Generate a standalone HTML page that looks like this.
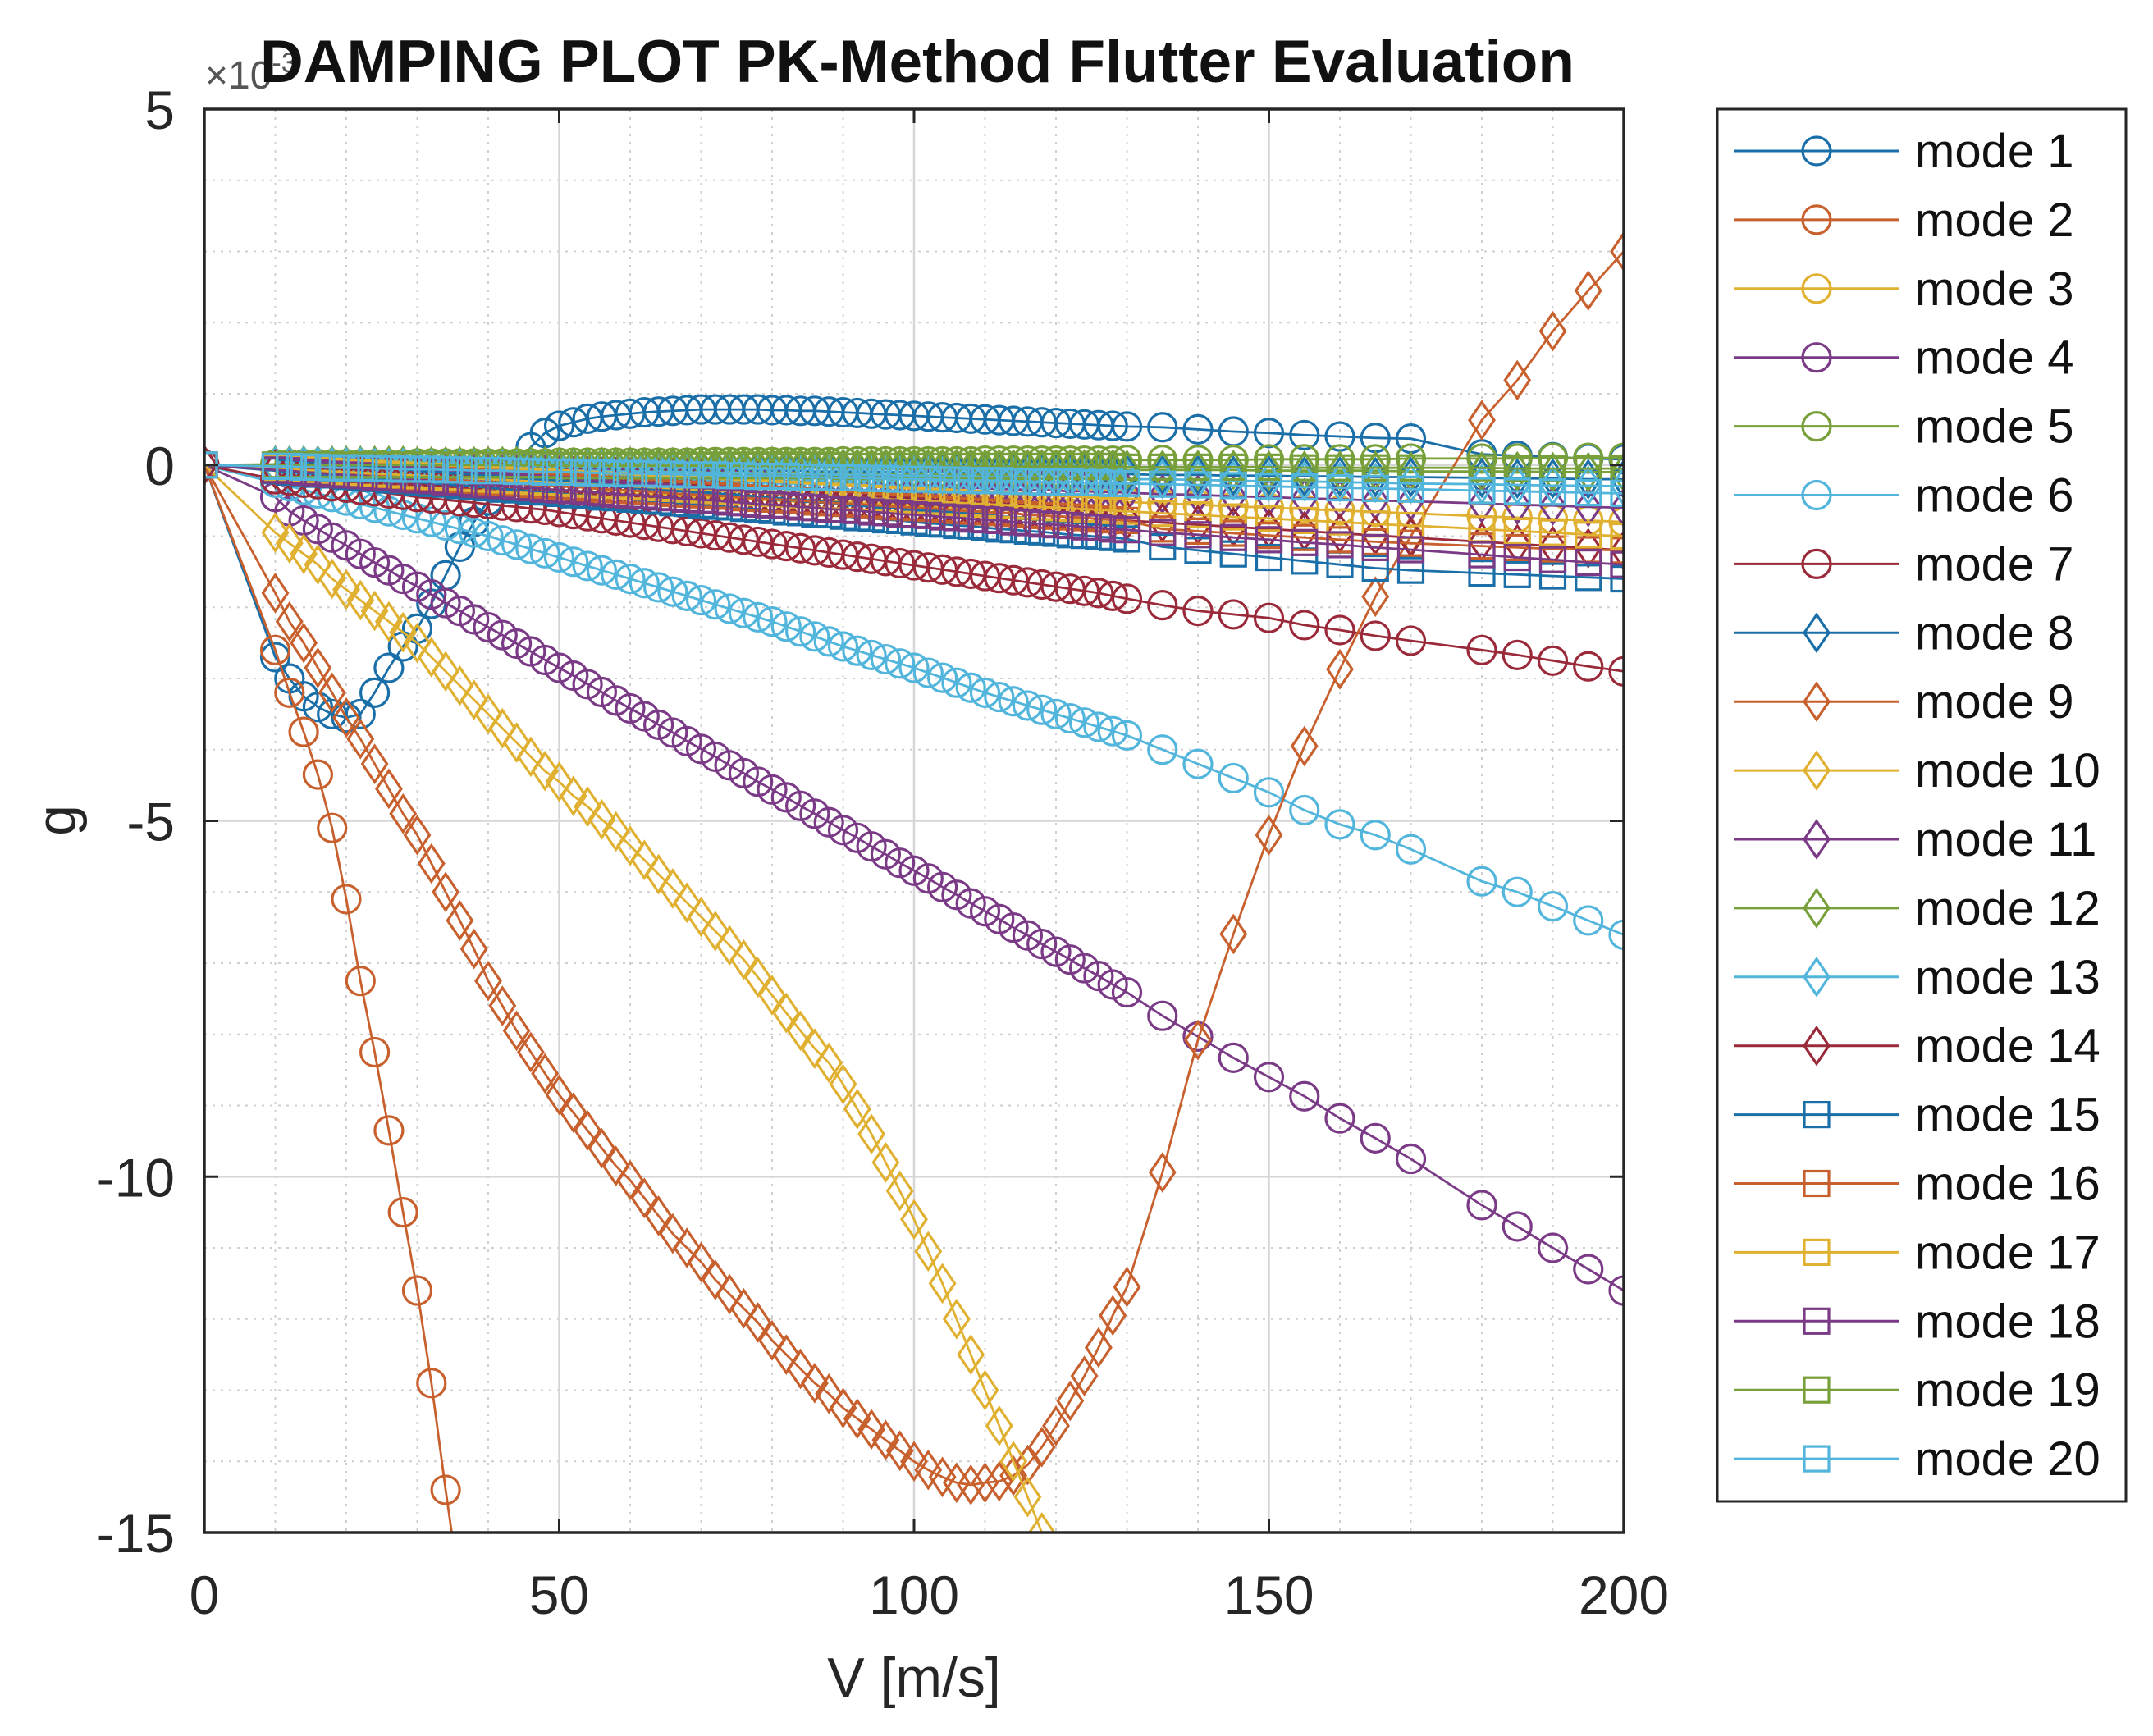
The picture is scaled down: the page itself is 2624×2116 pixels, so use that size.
<!DOCTYPE html>
<html><head><meta charset="utf-8"><style>
html,body{margin:0;padding:0;background:#fff;}
svg{display:block;font-family:"Liberation Sans",Arial,sans-serif;}
</style></head><body>
<svg id="chart" xmlns="http://www.w3.org/2000/svg" width="2624" height="2116" viewBox="0 0 2624 2116">
<rect x="0" y="0" width="2624" height="2116" fill="#fff"/>
<defs><clipPath id="plotclip"><rect x="249" y="133" width="1730" height="1735"/></clipPath></defs>
<g id="grid"></g>
<g id="series" clip-path="url(#plotclip)"></g>
<rect x="249" y="133" width="1730" height="1735" fill="none" stroke="#262626" stroke-width="3.5"/>
<g id="ticks"></g>
<text x="250" y="108" font-size="48" fill="#555">×10<tspan font-size="34" dy="-20">-3</tspan></text>
<text x="1118" y="100" font-size="73" font-weight="bold" text-anchor="middle" fill="#111">DAMPING PLOT PK-Method Flutter Evaluation</text>
<text x="1114" y="2068" font-size="68" text-anchor="middle" fill="#262626">V [m/s]</text>
<text x="0" y="0" font-size="68" text-anchor="middle" fill="#262626" transform="translate(92,1000) rotate(-90)">g</text>
<g id="legend"></g>
</svg>
<script>
const V = [0,
10,12,14,16,18,20,22,24,26,28,
30,32,34,36,38,40,42,44,46,48,
50,52,54,56,58,60,62,64,66,68,
70,72,74,76,78,80,82,84,86,88,
90,92,94,96,98,100,102,104,106,108,
110,112,114,116,118,120,122,124,126,128,
130,135,140,145,150,155,160,165,170,180,185,190,195,200];
const xTicks = [0,50,100,150,200];
const yTicks = [5,0,-5,-10,-15];
const xTickLabels = ["0","50","100","150","200"];
const yTickLabels = ["5","0","-5","-10","-15"];
const modeNames = ["mode 1","mode 2","mode 3","mode 4","mode 5","mode 6","mode 7","mode 8","mode 9","mode 10","mode 11","mode 12","mode 13","mode 14","mode 15","mode 16","mode 17","mode 18","mode 19","mode 20"];

const mode1 = [0,
-2.7,-3.0,-3.25,-3.4,-3.5,-3.55,-3.5,-3.2,-2.85,-2.55,
-2.3,-1.95,-1.55,-1.15,-0.8,-0.5,-0.25,0.0,0.25,0.45,
0.55,0.6,0.65,0.68,0.7,0.72,0.74,0.75,0.76,0.77,
0.78,0.78,0.78,0.78,0.78,0.77,0.77,0.76,0.76,0.75,
0.74,0.73,0.72,0.71,0.7,0.69,0.68,0.67,0.66,0.65,
0.64,0.63,0.62,0.61,0.6,0.59,0.58,0.57,0.56,0.55,
0.54,0.53,0.5,0.47,0.45,0.42,0.4,0.38,0.37,0.15,0.13,0.11,0.09,0.08];
const mode2 = [0,
-2.6,-3.2,-3.75,-4.35,-5.1,-6.1,-7.25,-8.25,-9.35,-10.5,
-11.6,-12.9,-14.4,-15.8];
const mode3 = [0,
-.04,-.05,-.06,-.06,-.07,-.08,-.09,-.10,-.10,-.11,
-.12,-.13,-.14,-.14,-.15,-.16,-.17,-.18,-.18,-.19,
-.20,-.21,-.22,-.22,-.23,-.24,-.25,-.26,-.26,-.27,
-.28,-.29,-.30,-.30,-.31,-.32,-.33,-.34,-.34,-.35,
-.36,-.37,-.38,-.38,-.39,-.40,-.41,-.42,-.42,-.43,
-.44,-.45,-.46,-.46,-.47,-.48,-.49,-.50,-.50,-.51,
-.52,-.54,-.56,-.58,-.60,-.62,-.64,-.66,-.68,-.72,-.74,-.76,-.78,-.80];
const mode4 = [0,
-.45,-.65,-.78,-.9,-1.02,-1.13,-1.25,-1.37,-1.48,-1.6,
-1.71,-1.82,-1.94,-2.05,-2.17,-2.28,-2.39,-2.51,-2.62,-2.74,
-2.85,-2.96,-3.08,-3.19,-3.31,-3.42,-3.53,-3.65,-3.76,-3.88,
-3.99,-4.1,-4.22,-4.33,-4.45,-4.56,-4.67,-4.79,-4.9,-5.02,
-5.13,-5.24,-5.36,-5.47,-5.59,-5.7,-5.81,-5.93,-6.04,-6.16,
-6.27,-6.38,-6.5,-6.61,-6.73,-6.84,-6.95,-7.07,-7.18,-7.3,
-7.41,-7.74,-8.03,-8.33,-8.6,-8.87,-9.18,-9.46,-9.75,-10.4,-10.7,-11.0,-11.3,-11.6];
const mode5 = [0,
.01,.01,.01,.01,.01,.01,.01,.01,.01,.01,
.02,.02,.02,.02,.02,.02,.02,.02,.02,.02,
.03,.03,.03,.03,.03,.03,.03,.03,.03,.03,
.04,.04,.04,.04,.04,.04,.04,.04,.04,.04,
.05,.05,.05,.05,.05,.05,.05,.05,.05,.05,
.06,.06,.06,.06,.06,.06,.06,.06,.06,.06,
.07,.07,.07,.07,.08,.08,.08,.08,.09,.09,.09,.10,.10,.10];
const mode6 = [0,
-.25,-.3,-.35,-.4,-.45,-.5,-.55,-.6,-.65,-.7,
-.75,-.8,-.85,-.9,-.95,-1.0,-1.06,-1.12,-1.18,-1.24,
-1.3,-1.36,-1.42,-1.48,-1.54,-1.6,-1.66,-1.72,-1.78,-1.84,
-1.9,-1.96,-2.02,-2.08,-2.14,-2.2,-2.27,-2.34,-2.41,-2.48,
-2.55,-2.61,-2.67,-2.73,-2.79,-2.85,-2.92,-2.99,-3.06,-3.13,
-3.2,-3.26,-3.32,-3.38,-3.44,-3.5,-3.56,-3.62,-3.68,-3.74,
-3.8,-4.0,-4.2,-4.4,-4.6,-4.85,-5.05,-5.2,-5.4,-5.85,-6.0,-6.2,-6.4,-6.6];
const mode7 = [0,
-.2,-.22,-.25,-.27,-.3,-.32,-.35,-.37,-.4,-.42,
-.45,-.47,-.49,-.51,-.53,-.55,-.57,-.59,-.61,-.63,
-.66,-.69,-.72,-.75,-.78,-.81,-.84,-.87,-.9,-.93,
-.96,-.99,-1.02,-1.05,-1.08,-1.11,-1.14,-1.17,-1.2,-1.23,
-1.26,-1.29,-1.32,-1.35,-1.38,-1.41,-1.44,-1.47,-1.5,-1.53,
-1.56,-1.59,-1.62,-1.65,-1.68,-1.71,-1.74,-1.77,-1.8,-1.84,
-1.88,-1.97,-2.05,-2.1,-2.15,-2.25,-2.32,-2.4,-2.47,-2.6,-2.67,-2.75,-2.83,-2.9];
const mode8 = [0,
-.01,-.01,-.01,-.02,-.02,-.02,-.02,-.02,-.03,-.03,
-.03,-.03,-.03,-.04,-.04,-.04,-.04,-.04,-.05,-.05,
-.05,-.05,-.05,-.06,-.06,-.06,-.06,-.06,-.07,-.07,
-.07,-.07,-.07,-.08,-.08,-.08,-.08,-.08,-.09,-.09,
-.09,-.09,-.09,-.10,-.10,-.10,-.10,-.10,-.11,-.11,
-.11,-.11,-.11,-.12,-.12,-.12,-.12,-.12,-.13,-.13,
-.13,-.14,-.14,-.15,-.15,-.16,-.16,-.17,-.17,-.18,-.19,-.19,-.20,-.20];
const mode9 = [0,
-1.8,-2.2,-2.5,-2.85,-3.2,-3.55,-3.85,-4.2,-4.55,-4.9,
-5.2,-5.6,-6.0,-6.4,-6.8,-7.25,-7.6,-7.95,-8.25,-8.55,
-8.85,-9.1,-9.35,-9.6,-9.85,-10.05,-10.3,-10.55,-10.8,-11.0,
-11.2,-11.45,-11.65,-11.85,-12.05,-12.3,-12.5,-12.7,-12.9,-13.05,
-13.25,-13.4,-13.55,-13.7,-13.85,-14.0,-14.12,-14.22,-14.3,-14.33,
-14.3,-14.28,-14.2,-14.05,-13.8,-13.5,-13.15,-12.8,-12.4,-11.95,
-11.55,-9.94,-8.08,-6.59,-5.2,-3.95,-2.87,-1.85,-1.0,0.63,1.19,1.88,2.45,3.0];
const mode10 = [0,
-.95,-1.1,-1.25,-1.4,-1.6,-1.75,-1.9,-2.05,-2.2,-2.35,
-2.5,-2.7,-2.9,-3.1,-3.3,-3.5,-3.7,-3.9,-4.1,-4.3,
-4.45,-4.65,-4.8,-4.98,-5.15,-5.35,-5.55,-5.75,-5.95,-6.15,
-6.35,-6.55,-6.75,-6.95,-7.2,-7.45,-7.7,-7.95,-8.2,-8.4,
-8.7,-9.05,-9.4,-9.8,-10.2,-10.6,-11.05,-11.5,-12.0,-12.5,
-13.0,-13.5,-14.0,-14.5,-15.0,-15.5];
const mode11 = [0,
-.03,-.04,-.04,-.05,-.05,-.06,-.07,-.07,-.08,-.08,
-.09,-.10,-.10,-.11,-.11,-.12,-.13,-.13,-.14,-.14,
-.15,-.16,-.16,-.17,-.17,-.18,-.19,-.19,-.20,-.20,
-.21,-.22,-.22,-.23,-.23,-.24,-.25,-.25,-.26,-.26,
-.27,-.28,-.28,-.29,-.29,-.30,-.31,-.31,-.32,-.32,
-.33,-.34,-.34,-.35,-.35,-.36,-.37,-.37,-.38,-.38,
-.39,-.41,-.42,-.44,-.45,-.47,-.48,-.50,-.51,-.54,-.56,-.57,-.59,-.60];
const mode12 = [0,
-.01,-.01,-.01,-.01,-.01,-.01,-.01,-.01,-.01,-.01,
-.02,-.02,-.02,-.02,-.02,-.02,-.02,-.02,-.02,-.02,
-.03,-.03,-.03,-.03,-.03,-.03,-.03,-.03,-.03,-.03,
-.04,-.04,-.04,-.04,-.04,-.04,-.04,-.04,-.04,-.04,
-.05,-.05,-.05,-.05,-.05,-.05,-.05,-.05,-.05,-.05,
-.06,-.06,-.06,-.06,-.06,-.06,-.06,-.06,-.06,-.06,
-.07,-.07,-.07,-.07,-.08,-.08,-.08,-.08,-.09,-.09,-.09,-.10,-.10,-.10];
const mode13 = [0,
-.02,-.02,-.02,-.02,-.03,-.03,-.03,-.04,-.04,-.04,
-.05,-.05,-.05,-.05,-.06,-.06,-.06,-.07,-.07,-.07,
-.08,-.08,-.08,-.08,-.09,-.09,-.09,-.10,-.10,-.10,
-.11,-.11,-.11,-.11,-.12,-.12,-.12,-.13,-.13,-.13,
-.14,-.14,-.14,-.14,-.15,-.15,-.15,-.16,-.16,-.16,
-.17,-.17,-.17,-.17,-.18,-.18,-.18,-.19,-.19,-.19,
-.20,-.20,-.21,-.22,-.23,-.23,-.24,-.25,-.26,-.27,-.28,-.29,-.29,-.30];
const mode14 = [0,
-.06,-.07,-.08,-.10,-.11,-.12,-.13,-.14,-.16,-.17,
-.18,-.19,-.20,-.22,-.23,-.24,-.25,-.26,-.28,-.29,
-.30,-.31,-.32,-.34,-.35,-.36,-.37,-.38,-.40,-.41,
-.42,-.43,-.44,-.46,-.47,-.48,-.49,-.50,-.52,-.53,
-.54,-.55,-.56,-.58,-.59,-.60,-.61,-.62,-.64,-.65,
-.66,-.67,-.68,-.70,-.71,-.72,-.73,-.74,-.76,-.77,
-.78,-.81,-.84,-.87,-.90,-.93,-.96,-.99,-1.02,-1.08,-1.11,-1.14,-1.17,-1.20];
const mode15 = [0,
-.08,-.10,-.11,-.13,-.14,-.16,-.18,-.19,-.21,-.22,
-.24,-.26,-.27,-.29,-.30,-.32,-.34,-.35,-.37,-.38,
-.40,-.42,-.43,-.45,-.46,-.48,-.50,-.51,-.53,-.54,
-.56,-.58,-.59,-.61,-.62,-.64,-.66,-.67,-.69,-.70,
-.72,-.74,-.75,-.77,-.78,-.80,-.82,-.83,-.85,-.86,
-.88,-.90,-.91,-.93,-.94,-.96,-.98,-.99,-1.01,-1.02,
-1.04,-1.15,-1.2,-1.25,-1.3,-1.35,-1.4,-1.45,-1.48,-1.52,-1.54,-1.56,-1.58,-1.6];
const mode16 = [0,
-.06,-.07,-.08,-.10,-.11,-.12,-.13,-.14,-.16,-.17,
-.18,-.19,-.20,-.22,-.23,-.24,-.25,-.26,-.28,-.29,
-.30,-.31,-.32,-.34,-.35,-.36,-.37,-.38,-.40,-.41,
-.42,-.43,-.44,-.46,-.47,-.48,-.49,-.50,-.52,-.53,
-.54,-.55,-.56,-.58,-.59,-.60,-.61,-.62,-.64,-.65,
-.66,-.67,-.68,-.70,-.71,-.72,-.73,-.74,-.76,-.77,
-.78,-.90,-.93,-.96,-.99,-1.02,-1.05,-1.08,-1.1,-1.14,-1.16,-1.18,-1.19,-1.20];
const mode17 = [0,
-.05,-.06,-.07,-.08,-.09,-.10,-.11,-.12,-.13,-.14,
-.15,-.16,-.17,-.18,-.19,-.20,-.21,-.22,-.23,-.24,
-.25,-.26,-.27,-.28,-.29,-.30,-.31,-.32,-.33,-.34,
-.35,-.36,-.37,-.38,-.39,-.40,-.41,-.42,-.43,-.44,
-.45,-.46,-.47,-.48,-.49,-.50,-.51,-.52,-.53,-.54,
-.55,-.56,-.57,-.58,-.59,-.60,-.61,-.62,-.63,-.64,
-.65,-.68,-.70,-.73,-.75,-.78,-.80,-.83,-.85,-.90,-.93,-.95,-.98,-1.00];
const mode18 = [0,
-.07,-.08,-.10,-.11,-.13,-.14,-.15,-.17,-.18,-.20,
-.21,-.22,-.24,-.25,-.27,-.28,-.29,-.31,-.32,-.34,
-.35,-.36,-.38,-.39,-.41,-.42,-.43,-.45,-.46,-.48,
-.49,-.50,-.52,-.53,-.55,-.56,-.57,-.59,-.60,-.62,
-.63,-.64,-.66,-.67,-.69,-.70,-.71,-.73,-.74,-.76,
-.77,-.78,-.80,-.81,-.83,-.84,-.85,-.87,-.88,-.90,
-.91,-.95,-.98,-1.02,-1.05,-1.09,-1.12,-1.16,-1.19,-1.26,-1.30,-1.33,-1.37,-1.40];
const mode19 = [0,
0,0,0,0,0,0,0,0,0,0,
0,0,0,0,0,0,0,0,0,0,
-.01,-.01,-.01,-.01,-.01,-.01,-.01,-.01,-.01,-.01,
-.01,-.01,-.01,-.01,-.01,-.01,-.01,-.01,-.01,-.01,
-.02,-.02,-.02,-.02,-.02,-.02,-.02,-.02,-.02,-.02,
-.02,-.02,-.02,-.02,-.02,-.02,-.02,-.02,-.02,-.02,
-.03,-.03,-.03,-.03,-.03,-.04,-.04,-.04,-.04,-.04,-.05,-.05,-.05,-.05];
const mode20 = [0,
-.02,-.02,-.03,-.03,-.04,-.04,-.04,-.05,-.05,-.06,
-.06,-.06,-.07,-.07,-.08,-.08,-.08,-.09,-.09,-.10,
-.10,-.10,-.11,-.11,-.12,-.12,-.12,-.13,-.13,-.14,
-.14,-.14,-.15,-.15,-.16,-.16,-.16,-.17,-.17,-.18,
-.18,-.18,-.19,-.19,-.20,-.20,-.20,-.21,-.21,-.22,
-.22,-.22,-.23,-.23,-.24,-.24,-.24,-.25,-.25,-.26,
-.26,-.27,-.28,-.29,-.30,-.31,-.32,-.33,-.34,-.36,-.37,-.38,-.39,-.40];

const allModes = [mode1,mode2,mode3,mode4,mode5,mode6,mode7,mode8,mode9,mode10,mode11,mode12,mode13,mode14,mode15,mode16,mode17,mode18,mode19,mode20];
const palette = ["#1a6fa8","#c8602e","#e0b030","#7a3a86","#78a03a","#52b5dc","#9a2a3a"];

const NS = "http://www.w3.org/2000/svg";
const PX0 = 249, PX1 = 1979, PY0 = 133, PY1 = 1868;
const XMIN = 0, XMAX = 200, YMIN = -15, YMAX = 5;
function xs(v){ return PX0 + (v - XMIN) / (XMAX - XMIN) * (PX1 - PX0); }
function ys(g){ return PY1 - (g - YMIN) / (YMAX - YMIN) * (PY1 - PY0); }
function mk(tag, attrs){ const e = document.createElementNS(NS, tag); for (const k in attrs) e.setAttribute(k, attrs[k]); return e; }

const grid = document.getElementById('grid');
for (let v = 10; v < 200; v += 10) {
  if (v % 50 === 0) continue;
  const l = mk('line', {x1: xs(v), x2: xs(v), y1: PY0, y2: PY1, stroke: '#cfcfcf', 'stroke-width': 2, 'stroke-dasharray': '3 7'});
  
  
  grid.appendChild(l);
}
for (let g = -14; g < 5; g += 1) {
  if (g % 5 === 0) continue;
  const l = mk('line', {x1: PX0, x2: PX1, y1: ys(g), y2: ys(g), stroke: '#cfcfcf', 'stroke-width': 2, 'stroke-dasharray': '3 7'});
  
  
  grid.appendChild(l);
}
xTicks.forEach(v => {
  const l = mk('line', {x1: xs(v), x2: xs(v), y1: PY0, y2: PY1, stroke: '#d6d6d6', 'stroke-width': 2.5});
  
  
  grid.appendChild(l);
});
yTicks.forEach(g => {
  const l = mk('line', {x1: PX0, x2: PX1, y1: ys(g), y2: ys(g), stroke: '#d6d6d6', 'stroke-width': 2.5});
  
  
  grid.appendChild(l);
});

const ticks = document.getElementById('ticks');
xTicks.forEach((v, i) => {
  [[PY1, PY1 - 17], [PY0, PY0 + 17]].forEach(p => {
    const t = mk('line', {x1: xs(v), x2: xs(v), y1: p[0], y2: p[1], stroke: '#262626', 'stroke-width': 3});
    
    
    ticks.appendChild(t);
  });
  const tx = mk('text', {x: xs(v), y: 1967, 'font-size': 66, 'text-anchor': 'middle', fill: '#262626'});
  tx.textContent = xTickLabels[i];
  
  
  ticks.appendChild(tx);
});
yTicks.forEach((g, i) => {
  [[PX0, PX0 + 17], [PX1, PX1 - 17]].forEach(p => {
    const t = mk('line', {x1: p[0], x2: p[1], y1: ys(g), y2: ys(g), stroke: '#262626', 'stroke-width': 3});
    
    
    ticks.appendChild(t);
  });
  const tx = mk('text', {x: 213, y: ys(g) + 24, 'font-size': 66, 'text-anchor': 'end', fill: '#262626'});
  tx.textContent = yTickLabels[i];
  
  
  ticks.appendChild(tx);
});

function marker(shape, cx, cy, color){
  let m;
  if (shape === 0) m = mk('circle', {cx: cx, cy: cy, r: 17});
  else if (shape === 1) m = mk('polygon', {points: `${cx},${cy-22} ${cx+15},${cy} ${cx},${cy+22} ${cx-15},${cy}`});
  else m = mk('rect', {x: cx - 15, y: cy - 15, width: 30, height: 30});
  m.setAttribute('fill', 'none');
  m.setAttribute('stroke', color);
  m.setAttribute('stroke-width', 3.2);
  return m;
}

const seriesG = document.getElementById('series');
allModes.forEach((vals, k) => {
  const color = palette[k % 7];
  const shape = Math.floor(k / 7);
  const g = mk('g', {});
  
  
  const pts = [];
  for (let i = 0; i < vals.length && i < V.length; i++) {
    if (vals[i] === null || vals[i] === undefined) continue;
    pts.push([xs(V[i]), ys(vals[i])]);
  }
  const pl = mk('polyline', {points: pts.map(p => p[0].toFixed(1) + ',' + p[1].toFixed(1)).join(' '), fill: 'none', stroke: color, 'stroke-width': 2.8});
  
  
  g.appendChild(pl);
  pts.forEach(p => {
    const m = marker(shape, p[0], p[1], color);
    
    
    g.appendChild(m);
  });
  seriesG.appendChild(g);
});

const lg = document.getElementById('legend');
const box = mk('rect', {x: 2093, y: 133, width: 498, height: 1697, fill: '#fff', stroke: '#262626', 'stroke-width': 3});


lg.appendChild(box);
modeNames.forEach((name, k) => {
  const y = 184 + k * 83.9;
  const color = palette[k % 7];
  const shape = Math.floor(k / 7);
  const e = mk('g', {});
  
  
  const ln = mk('line', {x1: 2113, x2: 2315, y1: y, y2: y, stroke: color, 'stroke-width': 3});
  
  
  e.appendChild(ln);
  const m = marker(shape, 2214, y, color);
  
  
  e.appendChild(m);
  const t = mk('text', {x: 2334, y: y + 20, 'font-size': 58, fill: '#111'});
  t.textContent = name;
  
  
  e.appendChild(t);
  lg.appendChild(e);
});
</script>
</body></html>
